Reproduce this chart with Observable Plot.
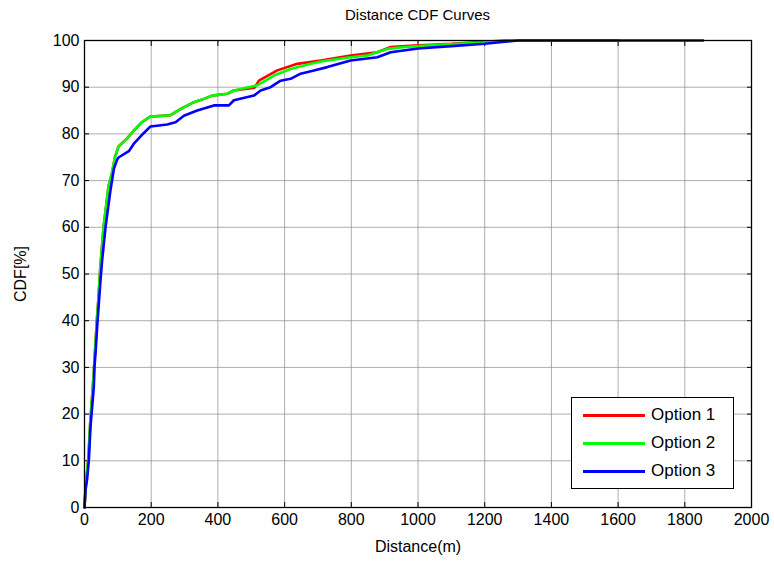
<!DOCTYPE html>
<html>
<head>
<meta charset="utf-8">
<script src="https://cdn.jsdelivr.net/npm/d3@7"></script>
<script src="https://cdn.jsdelivr.net/npm/@observablehq/plot@0.6"></script>
<style>
  html, body { margin: 0; padding: 0; background: #fff; }
  #wrap { position: relative; width: 774px; height: 565px; font-family: "Liberation Sans", Arial, sans-serif; color: #000; }
  #title { position: absolute; left: 84px; width: 667px; top: 6px; text-align: center; font-size: 15px; }
  #chart { position: absolute; left: 0; top: 30px; }
  #legend { position: absolute; left: 571px; top: 397px; width: 163px; height: 92px; border: 1px solid #000; background: #fff; box-sizing: border-box; }
  .row { position: absolute; left: 11px; height: 20px; display: flex; align-items: center; }
  .swatch { width: 62px; height: 0; border-top: 3px solid; margin-right: 6px; }
  .lab { font-size: 17px; white-space: nowrap; }
</style>
</head>
<body>
<div id="wrap">
  <div id="title"></div>
  <div id="chart"></div>
  <div id="legend"></div>
</div>
<script>
const titleText = "Distance CDF Curves";
const xLabel = "Distance(m)";
const yLabel = "CDF[%]";
const seriesNames = ["Option 1", "Option 2", "Option 3"];
const seriesColors = ["#ff0000", "#00ff00", "#0000ff"];
const xTicks = [0, 200, 400, 600, 800, 1000, 1200, 1400, 1600, 1800, 2000];
const yTicks = [0, 10, 20, 30, 40, 50, 60, 70, 80, 90, 100];

// Option 1 (red)
const dist1 = [0, 3, 7, 12, 17, 22, 27, 32, 37, 42, 47, 57, 72, 82, 92, 102, 127, 152, 172, 197, 258, 288, 328, 358, 383, 428, 448, 510, 523, 578, 638, 708, 798, 878, 918, 987, 1100, 1200, 1260, 1600];
const cdf1  = [0, 4, 7, 11, 18, 23, 28, 34, 40, 45, 51, 60, 68.8, 71.5, 75.2, 77.3, 79, 81, 82.5, 83.7, 84, 85.3, 86.8, 87.5, 88.2, 88.6, 89.3, 89.9, 91.4, 93.6, 95, 95.7, 96.8, 97.5, 98.6, 98.9, 99.3, 99.7, 100, 100];
// Option 2 (green)
const dist2 = [0, 3, 7, 12, 17, 22, 27, 32, 37, 42, 47, 57, 72, 82, 92, 102, 127, 152, 172, 197, 258, 288, 328, 358, 383, 428, 448, 518, 568, 618, 688, 718, 798, 848, 908, 960, 1050, 1150, 1250, 1300, 1600];
const cdf2  = [0, 4, 7, 11, 18, 23, 28, 34, 40, 45, 51, 60, 68.8, 71.5, 75.2, 77.3, 79, 81, 82.5, 83.7, 84, 85.3, 86.8, 87.5, 88.2, 88.6, 89.3, 90.4, 92.5, 93.9, 95.2, 95.6, 96.4, 96.8, 98.2, 98.6, 99, 99.4, 99.8, 100, 100];
// Option 3 (blue)
const dist3 = [0, 3, 8, 13, 18, 23, 28, 30, 33, 38, 43, 48, 53, 63, 78, 88, 98, 103, 133, 148, 178, 198, 248, 273, 298, 338, 388, 433, 448, 508, 528, 558, 588, 618, 648, 688, 728, 798, 878, 918, 1000, 1100, 1200, 1300, 1855];
const cdf3  = [0, 3.7, 6.2, 10.1, 17.3, 21.6, 25.9, 30.2, 33, 38.7, 43.7, 48.7, 53, 60, 68, 72.5, 74.5, 75, 76.3, 77.9, 80.2, 81.6, 82, 82.5, 83.9, 85, 86.1, 86.1, 87.2, 88.2, 89.3, 90, 91.4, 91.8, 92.9, 93.6, 94.3, 95.7, 96.4, 97.5, 98.3, 98.8, 99.3, 100, 100];

const dists = [dist1, dist2, dist3];
const cdfs = [cdf1, cdf2, cdf3];
const rows = [];
seriesNames.forEach((name, i) => {
  dists[i].forEach((d, j) => rows.push({series: name, d, cdf: cdfs[i][j]}));
});

document.getElementById("title").textContent = titleText;

const font = '"Liberation Sans", Arial, sans-serif';
const fmt = d => String(d);
const chart = Plot.plot({
  width: 774,
  height: 535,
  marginLeft: 84,
  marginRight: 23,
  marginTop: 10,
  marginBottom: 58,
  style: {fontFamily: font, fontSize: "16px", color: "#000", background: "transparent", overflow: "visible"},
  x: {domain: [0, 2000]},
  y: {domain: [0, 100]},
  color: {domain: seriesNames, range: seriesColors},
  marks: [
    Plot.gridX(xTicks, {stroke: "#8c8c8c", strokeOpacity: 0.7, strokeWidth: 1}),
    Plot.gridY(yTicks, {stroke: "#8c8c8c", strokeOpacity: 0.7, strokeWidth: 1}),
    Plot.axisX(xTicks, {anchor: "bottom", tickSize: 0, tickPadding: 6, tickFormat: fmt, label: xLabel, labelAnchor: "center", labelArrow: "none", labelOffset: 44, fontSize: 16}),
    Plot.axisY(yTicks, {anchor: "left", tickSize: 0, tickPadding: 5, tickFormat: fmt, label: yLabel, labelAnchor: "center", labelArrow: "none", labelOffset: 70, fontSize: 16}),
    Plot.axisX(xTicks, {anchor: "bottom", tickSize: -5, tickFormat: () => "", label: null}),
    Plot.axisX(xTicks, {anchor: "top", tickSize: -5, tickFormat: () => "", label: null}),
    Plot.axisY(yTicks, {anchor: "left", tickSize: -5, tickFormat: () => "", label: null}),
    Plot.axisY(yTicks, {anchor: "right", tickSize: -5, tickFormat: () => "", label: null}),
    Plot.line(rows, {x: "d", y: "cdf", z: "series", stroke: "series", strokeWidth: 2.6, strokeLinejoin: "miter"}),
    Plot.frame({stroke: "#000", strokeWidth: 1.3})
  ]
});
document.getElementById("chart").appendChild(chart);

const legend = document.getElementById("legend");
seriesNames.forEach((name, i) => {
  const row = document.createElement("div");
  row.className = "row";
  row.style.top = (7 + i * 28) + "px";
  const sw = document.createElement("div");
  sw.className = "swatch";
  sw.style.borderTopColor = seriesColors[i];
  const lab = document.createElement("span");
  lab.className = "lab";
  lab.textContent = name;
  row.appendChild(sw);
  row.appendChild(lab);
  legend.appendChild(row);
});
</script>
</body>
</html>
